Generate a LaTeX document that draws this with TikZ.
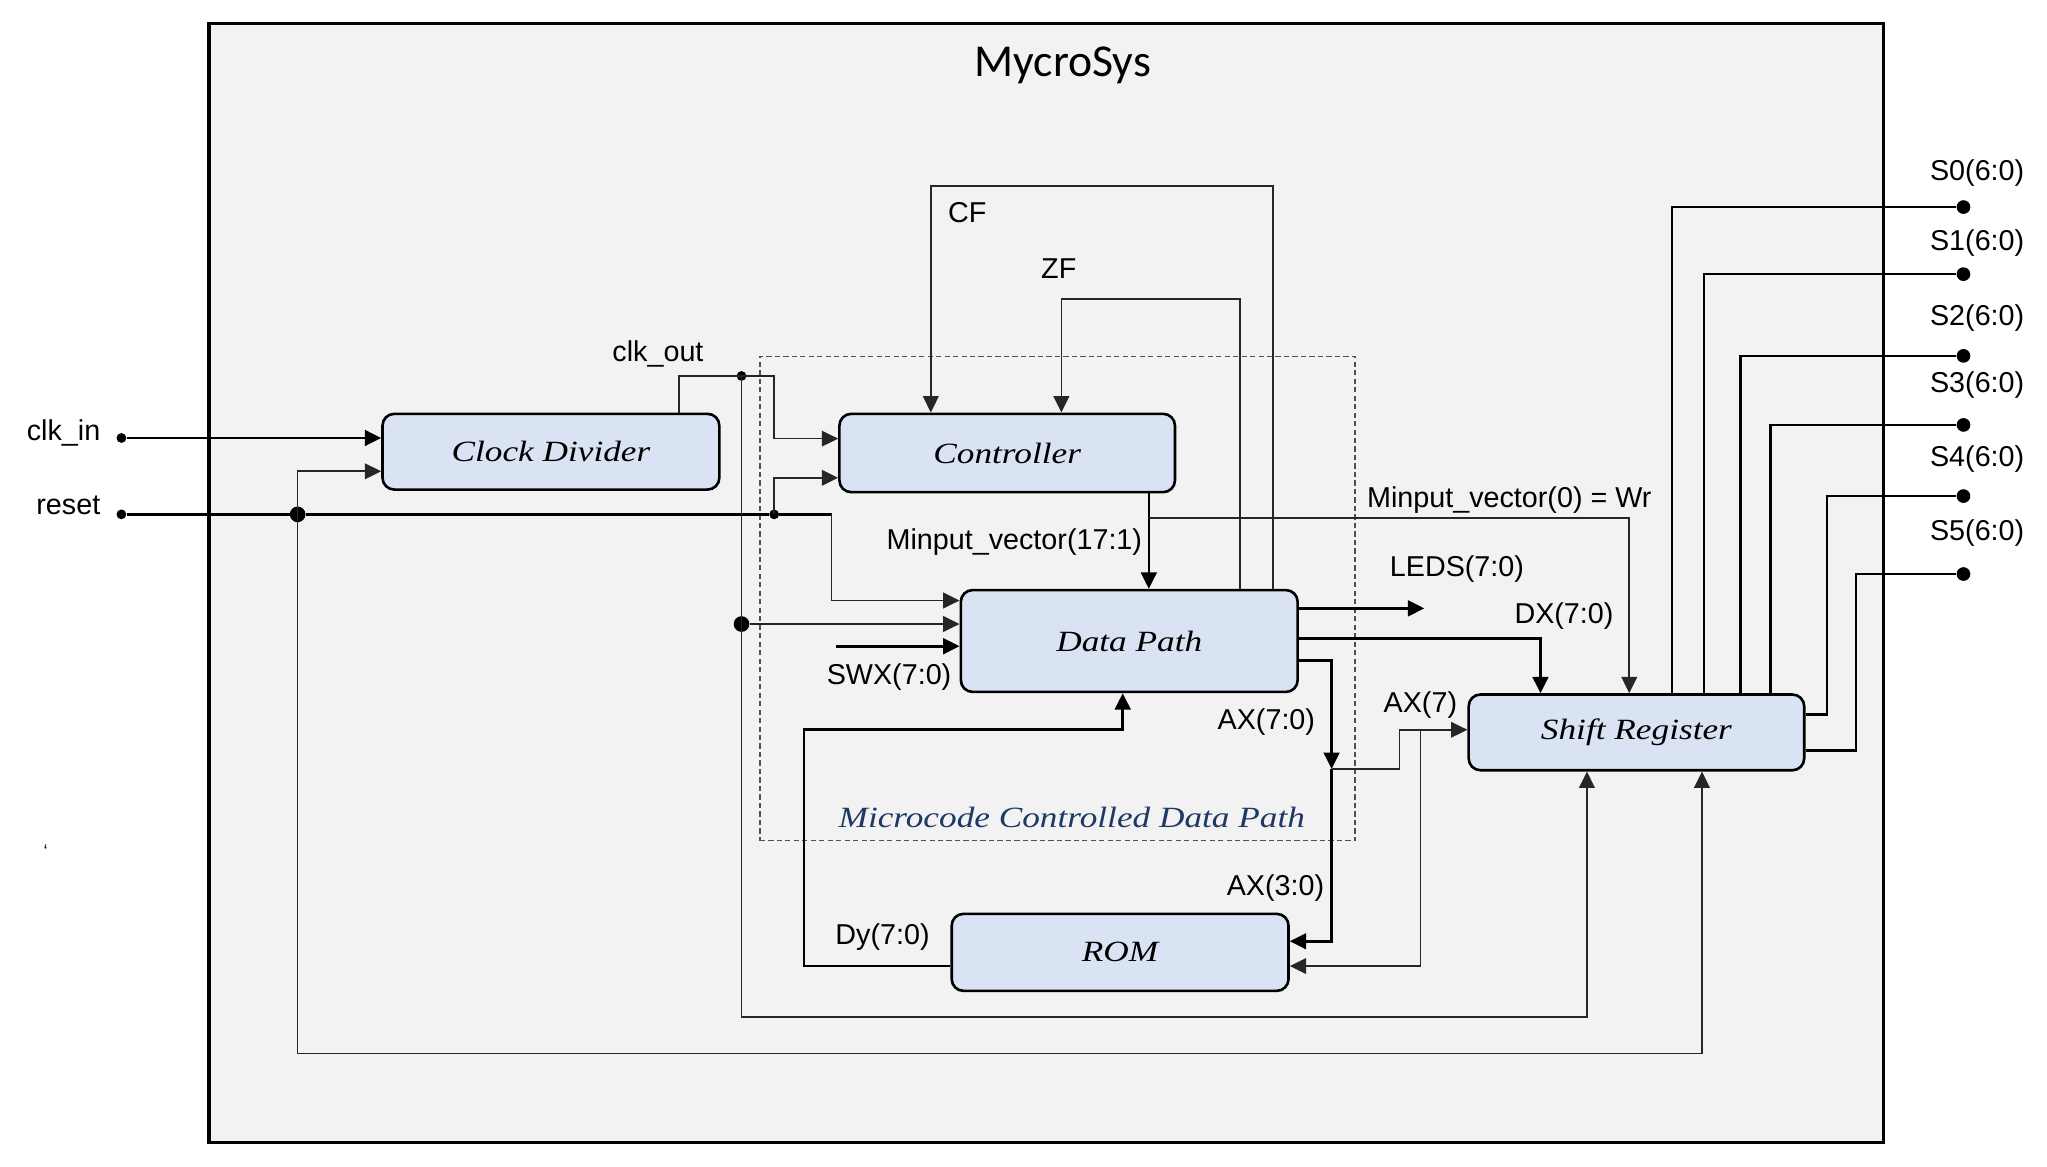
\documentclass[tikz,border=0pt]{standalone}
\usepackage{fontspec}
\setmainfont{Liberation Sans}
\newfontfamily\blockfont[FakeStretch=1.2]{Liberation Serif}
\newfontfamily\titlefont{Carlito}
\usetikzlibrary{arrows.meta,calc}
\definecolor{bgray}{HTML}{F2F2F2}
\definecolor{blockblue}{HTML}{DAE3F3}
\definecolor{navy}{HTML}{1F3864}
\definecolor{wire}{HTML}{262626}
\definecolor{dashgray}{HTML}{505050}
\begin{document}
\begin{tikzpicture}[x=1pt,y=-1pt,
  block/.style={draw=black,line width=2pt,fill=blockblue,rounded corners=9pt,inner sep=0pt,
    font=\blockfont\itshape\fontsize{22.5}{26}\selectfont},
  lbl/.style={font=\fontsize{22}{26}\selectfont,inner sep=0pt},
  thk/.style={line width=2pt,draw=black},
  thn/.style={line width=1.2pt,draw=wire},
  arr/.style={-{Triangle[length=12.5pt,width=12pt]}},
  jdot/.style={circle,fill=black,draw=none,inner sep=0pt,minimum size=#1},
  jdot/.default=7.5pt]
\useasboundingbox (0,0) rectangle (1568,893.2);
\fill[white] (0,0) rectangle (1568,893.2);
% system frame
\node[draw=black,line width=2.5pt,fill=bgray,minimum width=1283,minimum height=857,inner sep=0pt] (sys) at (801.5,446.5) {};
\node[font=\titlefont\fontsize{35}{40}\selectfont,inner sep=0pt] (title) at (814,50) {MycroSys};
% dashed group
\node[draw=dashgray,dashed,dash pattern=on 4pt off 2.5pt,line width=1.1pt,minimum width=456,minimum height=371,inner sep=0pt] (grp) at (810,458.5) {};
\node[font=\blockfont\itshape\fontsize{22.5}{26}\selectfont,text=navy,inner sep=0pt] (grplbl) at (821,626) {Microcode Controlled Data Path};
% blocks
\node[block,minimum width=258,minimum height=58] (cd) at (422,346) {Clock Divider};
\node[block,minimum width=257,minimum height=60] (ctrl) at (771.5,347) {Controller};
\node[block,minimum width=258,minimum height=78] (dp) at (865,491) {Data Path};
\node[block,minimum width=258,minimum height=59] (rom) at (858,729.5) {ROM};
\node[block,minimum width=257,minimum height=58] (sr) at (1253.5,561) {Shift Register};
% dots
\node[jdot] (clkin) at (93,335.5) {};
\node[jdot] (rst) at (93,394) {};
\node[jdot=12pt] (j1) at (228,394) {};
\node[jdot] (j2) at (593,394) {};
\node[jdot] (co) at (568,288) {};
\node[jdot=12pt] (j3) at (568,478) {};
\node[jdot=10.5pt] (s0) at (1504,158.6) {};
\node[jdot=10.5pt] (s1) at (1504,210) {};
\node[jdot=10.5pt] (s2) at (1504,272.6) {};
\node[jdot=10.5pt] (s3) at (1504,325.5) {};
\node[jdot=10.5pt] (s4) at (1504,380) {};
\node[jdot=10.5pt] (s5) at (1504,439.7) {};
\coordinate (swx) at (640,495);
\coordinate (leds) at (1091,466);
\coordinate (axj) at (1020,589);
% clk_in and reset
\draw[thk,arr] (clkin) -- (cd.west |- clkin);
\draw[thk] (rst) -- (j1) -- (j2) -- (637,394);
\draw[thn,arr] (637,394) -- (637,460) -- (dp.west |- 0,460);
\draw[thn,arr] (j1.center) -- (j1.center |- 0,361) -- (cd.west |- 0,361);
\draw[thn,arr] (j1.center) -- (228,807) -| (sr.south -| 1303.7,0);
\draw[thn,arr] (j2.center) -- (593,366) -- (ctrl.west |- 0,366);
% clk_out
\draw[thn] (cd.north -| 520,0) |- (co.center);
\draw[thn,arr] (co.center) -| (593,336) -- (ctrl.west |- 0,336);
\draw[thn] (co.center) -- (j3.center);
\draw[thn,arr] (j3) -- (dp.west |- j3);
\draw[thn,arr] (j3.center) -- (568,779) -| (sr.south -| 1215.6,0);
% SWX
\draw[thk,arr] (swx) -- (dp.west |- swx);
% flags
\draw[thn,arr] (dp.north -| 975,0) |- (713,142.5) -- (ctrl.north -| 713,0);
\draw[thn,arr] (dp.north -| 950,0) |- (813,229) -- (ctrl.north -| 813,0);
% microinstruction
\draw[thk,arr] (ctrl.south -| 880,0) -- (dp.north -| 880,0);
\draw[thn,arr] (880,397) -| (sr.north -| 1248,0);
% data path outputs
\draw[thk,arr] (dp.east |- leds) -- (leds);
\draw[thk,arr] (dp.east |- 0,489) -| (sr.north -| 1180,0);
\draw[thk,arr] (dp.east |- 0,506) -| (axj);
\draw[thk,arr] (axj) |- (rom.east |- 0,721);
\draw[thn,arr] (axj) -- (1072,589) |- (sr.west |- 0,559);
\draw[thn,arr] (1088,559) |- (rom.east |- 0,740);
% ROM output
\draw[thk,arr] (rom.west |- 0,740) -| (616,559) -| (dp.south -| 860,0);
% shift register outputs
\draw[thk] (sr.north -| 1280.7,0) |- (s0);
\draw[thk] (sr.north -| 1305.3,0) |- (s1);
\draw[thk] (sr.north -| 1333,0) |- (s2);
\draw[thk] (sr.north -| 1356,0) |- (s3);
\draw[thk] (sr.east |- 0,547.5) -| (1399.5,380) -- (s4);
\draw[thk] (sr.east |- 0,575) -| (1421.8,439.7) -- (s5);
% labels
\node[lbl,anchor=east] (lclkin) at (77,332) {clk\_in};
\node[lbl,anchor=east] (lreset) at (77,387) {reset};
\node[lbl] (lclkout) at (504,271) {clk\_out};
\node[lbl] (lcf) at (741,163) {CF};
\node[lbl] (lzf) at (811,206) {ZF};
\node[lbl,anchor=east] (lmin) at (875,415) {Minput\_vector(17:1)};
\node[lbl,anchor=west] (lwr) at (1047,383) {Minput\_vector(0) = Wr};
\node[lbl] (lleds) at (1116,436) {LEDS(7:0)};
\node[lbl] (ldx) at (1198,472) {DX(7:0)};
\node[lbl] (lswx) at (681,519) {SWX(7:0)};
\node[lbl] (lax) at (970,553) {AX(7:0)};
\node[lbl] (lax7) at (1088,540) {AX(7)};
\node[lbl] (lax30) at (977,680) {AX(3:0)};
\node[lbl] (ldy) at (676,718) {Dy(7:0)};
\node[lbl] (ls0) at (1514.5,132.6) {S0(6:0)};
\node[lbl] (ls1) at (1514.5,186) {S1(6:0)};
\node[lbl] (ls2) at (1514.5,243.5) {S2(6:0)};
\node[lbl] (ls3) at (1514.5,295) {S3(6:0)};
\node[lbl] (ls4) at (1514.5,352) {S4(6:0)};
\node[lbl] (ls5) at (1514.5,408) {S5(6:0)};
\node[font=\fontsize{14}{16}\selectfont,inner sep=0pt] (tick) at (35,652) {\symbol{96}};
\end{tikzpicture}
\end{document}
